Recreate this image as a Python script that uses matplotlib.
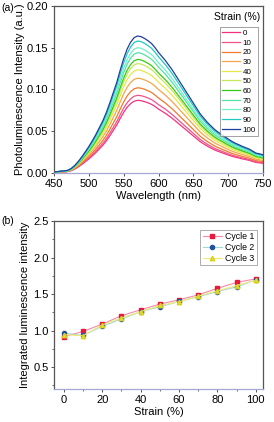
import numpy as np
import matplotlib
matplotlib.use("Agg")
import matplotlib.pyplot as plt
from matplotlib.ticker import MultipleLocator, FormatStrFormatter

plt.rcParams['font.family'] = ['Liberation Sans', 'DejaVu Sans']

# (a) PL spectra: read shape (normalised, 5 nm steps) and peak height per strain
wavelength = np.arange(450, 751, 5)
pl_shape = [0.008, 0.010, 0.014, 0.016, 0.020, 0.034, 0.056, 0.085, 0.118, 0.155,
            0.193, 0.235, 0.280, 0.330, 0.380, 0.440, 0.510, 0.585, 0.660, 0.750,
            0.835, 0.905, 0.955, 0.988, 1.000, 0.995, 0.982, 0.965, 0.945, 0.915,
            0.880, 0.850, 0.820, 0.785, 0.750, 0.710, 0.670, 0.630, 0.590, 0.550,
            0.510, 0.470, 0.430, 0.400, 0.370, 0.345, 0.320, 0.300, 0.283, 0.265,
            0.248, 0.232, 0.218, 0.207, 0.195, 0.185, 0.175, 0.160, 0.145, 0.140,
            0.133]
strain_labels = ["0", "10", "20", "30", "40", "50", "60", "70", "80", "90", "100"]
peak_intensity = [0.087, 0.093, 0.102, 0.1135, 0.1235, 0.131, 0.136, 0.144, 0.150, 0.158, 0.164]
line_colors = ["#f5317f", "#f2528c", "#f07a2a", "#f5a54a", "#e6e64d", "#c8e65a",
               "#33cc11", "#55e0a0", "#70f0c8", "#20c8c0", "#1f3f9f"]

# (b) integrated intensity vs strain
strain = [0, 10, 20, 30, 40, 50, 60, 70, 80, 90, 100]
cycle1 = [0.918, 0.99, 1.09, 1.205, 1.286, 1.364, 1.423, 1.49, 1.58, 1.66, 1.71]
cycle2 = [0.964, 0.936, 1.06, 1.16, 1.26, 1.327, 1.40, 1.464, 1.536, 1.60, 1.695]
cycle3 = [0.945, 0.93, 1.08, 1.173, 1.26, 1.345, 1.395, 1.473, 1.545, 1.618, 1.69]

SPINE = "#555555"
BOTTOM = "#a4a8d4"


def style_axes(ax):
    for side in ["top", "left", "right"]:
        ax.spines[side].set_color(SPINE)
        ax.spines[side].set_linewidth(0.9)
    ax.spines["bottom"].set_color(BOTTOM)
    ax.spines["bottom"].set_linewidth(0.9)
    ax.tick_params(direction="out", length=2.5, width=0.7, color=SPINE,
                   labelsize=8, pad=1.5)
    ax.tick_params(which="minor", direction="out", length=1.5, width=0.6, color=SPINE)


fig = plt.figure(figsize=(2.74, 4.22), dpi=100)

# panel (a)
ax1 = fig.add_axes([0.197, 0.590, 0.763, 0.396])
shape = np.array(pl_shape)
for lab, pk, col in zip(strain_labels, peak_intensity, line_colors):
    ax1.plot(wavelength, pk * shape, color=col, lw=0.9, label=lab)
ax1.set_xlim(450, 750)
ax1.set_ylim(0, 0.20)
ax1.xaxis.set_major_locator(MultipleLocator(50))
ax1.yaxis.set_major_locator(MultipleLocator(0.05))
ax1.yaxis.set_major_formatter(FormatStrFormatter("%.2f"))
ax1.set_xlabel("Wavelength (nm)", fontsize=8, labelpad=2)
ax1.set_ylabel("Photoluminescence Intensity (a.u.)", fontsize=8, labelpad=1.5)
style_axes(ax1)
leg1 = ax1.legend(loc="upper right", bbox_to_anchor=(0.976, 0.874), borderaxespad=0,
                  fontsize=5.8, handlelength=2.2, handletextpad=0.3, labelspacing=0.25,
                  borderpad=0.3, frameon=True, fancybox=False)
leg1.get_frame().set_edgecolor("#777777")
leg1.get_frame().set_linewidth(0.6)
ax1.text(0.986, 0.934, "Strain (%)", transform=ax1.transAxes, ha="right", va="center",
         fontsize=7.5)
fig.text(0.005, 0.981, "(a)", fontsize=7.5, va="center")

# panel (b)
ax2 = fig.add_axes([0.197, 0.078, 0.763, 0.398])
ax2.plot(strain, cycle1, color="#f58aa8", lw=0.8, marker="s", ms=3,
         mfc="#e8183c", mec="#e8183c", label="Cycle 1")
ax2.plot(strain, cycle2, color="#9fd8d4", lw=0.8, marker="o", ms=3,
         mfc="#2050a0", mec="#2050a0", label="Cycle 2")
ax2.plot(strain, cycle3, color="#f2e878", lw=0.8, marker="^", ms=3.2,
         mfc="#e8e030", mec="#d8d020", label="Cycle 3")
ax2.set_xlim(-5.2, 103.8)
ax2.set_ylim(0.2, 2.5)
ax2.xaxis.set_major_locator(MultipleLocator(20))
ax2.xaxis.set_minor_locator(MultipleLocator(10))
ax2.yaxis.set_major_locator(MultipleLocator(0.5))
ax2.yaxis.set_minor_locator(MultipleLocator(0.25))
ax2.yaxis.set_major_formatter(FormatStrFormatter("%.1f"))
ax2.set_xlabel("Strain (%)", fontsize=8, labelpad=2)
ax2.set_ylabel("Integrated luminescence intensity", fontsize=8, labelpad=2)
style_axes(ax2)
leg2 = ax2.legend(loc="upper right", bbox_to_anchor=(0.971, 0.946), borderaxespad=0,
                  fontsize=6.3, handlelength=2.2, handletextpad=0.4, labelspacing=0.2,
                  borderpad=0.25, frameon=True, fancybox=False)
leg2.get_frame().set_edgecolor("#888888")
leg2.get_frame().set_linewidth(0.6)
fig.text(0.005, 0.476, "(b)", fontsize=7.5, va="center")

fig.savefig("out.png", dpi=100)
